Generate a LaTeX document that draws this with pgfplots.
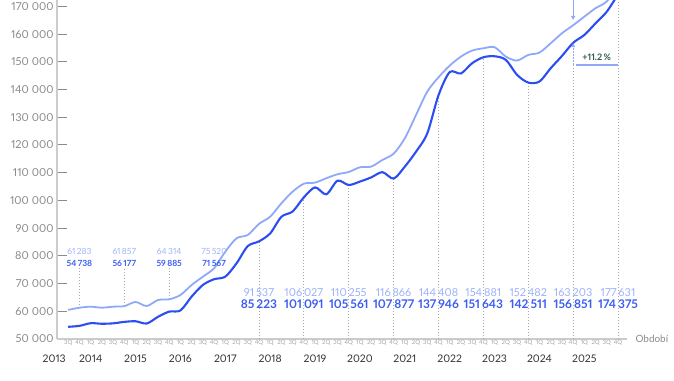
\documentclass[border=0pt]{standalone}
\usepackage{fontspec}
\setmainfont{Lato}[Numbers=Proportional]
\usepackage{pgfplots}
\usepackage{pgfplotstable}
\pgfplotsset{compat=1.18}
\usetikzlibrary{arrows.meta}
\definecolor{lightc}{HTML}{8FA8F7}
\definecolor{darkc}{HTML}{2B4EF3}
\definecolor{lightlab}{HTML}{9DB2F8}
\definecolor{darklab}{HTML}{3C5DF2}
\definecolor{axgray}{HTML}{CCCCCC}
\definecolor{tickgray}{HTML}{8A8A8A}
\definecolor{qgray}{HTML}{A5A5A5}
\definecolor{dotgray}{HTML}{A8A8A8}
\definecolor{pct}{HTML}{2F5A4C}
\newcommand{\ts}{\hspace{3bp}}

\tikzset{
  dotline/.style={dotgray, line width=0.9bp, dash pattern=on 1bp off 2bp},
  yearlab/.style={font=\fontsize{10.5}{12}\selectfont, text=black!80, yshift=-20bp},
  sl/.style={font=\fontsize{8.5}{10}\selectfont, text=lightlab, inner sep=0pt, yshift=88bp},
  sd/.style={font=\bfseries\fontsize{8.5}{10}\selectfont, text=darklab, inner sep=0pt, yshift=76bp},
  bl/.style={font=\fontsize{11}{12}\selectfont, text=lightlab, inner sep=0pt, yshift=46bp},
  bd/.style={font=\bfseries\fontsize{12}{13}\selectfont, text=darklab, inner sep=0pt, yshift=35bp},
}

\pgfplotstableread{
i v
0 54400
1 54738
2 55700
3 55500
4 55650
5 56177
6 56400
7 55600
8 58000
9 59885
10 60300
11 65300
12 69500
13 71567
14 72500
15 77300
16 83500
17 85223
18 88100
19 94100
20 96000
21 101091
22 104700
23 102200
24 107100
25 105561
26 106800
27 108300
28 110200
29 107877
30 112200
31 117600
32 124200
33 137946
34 146300
35 145800
36 149500
37 151643
38 152000
39 150700
40 145300
41 142511
42 142900
43 147700
44 152100
45 156851
46 159700
47 163900
48 168100
49 174375
}\darktab

\pgfplotstableread{
i v
0 60500
1 61283
2 61660
3 61300
4 61660
5 61857
6 63350
7 61900
8 64070
9 64314
10 65880
11 69490
12 72490
13 75520
14 81510
15 86330
16 87530
17 91537
18 94140
19 98970
20 103160
21 106027
22 106420
23 108000
24 109440
25 110255
26 111960
27 112190
28 114600
29 116866
30 122420
31 130840
32 139250
33 144408
34 148630
35 151890
36 154050
37 154881
38 155260
39 151890
40 150450
41 152482
42 153330
43 156700
44 160300
45 163203
46 166300
47 169350
48 171800
49 177631
}\lighttab

\begin{document}
\begin{tikzpicture}[x=1bp,y=1bp]
\path[use as bounding box] (0,0) rectangle (674,380);
\begin{axis}[
  at={(57bp,41bp)}, anchor=south west,
  scale only axis, width=570bp, height=339bp,
  xmin=-1, xmax=49.8, ymin=50000, ymax=172300,
  clip=false,
  axis x line=bottom, axis y line=left,
  axis line style={axgray, line width=1.4bp, -},
  tick align=inside,
  major tick length=10bp,
  minor tick length=4bp,
  ytick style={tickgray, line width=1bp},
  xtick style={draw=none},
  minor xtick={0,...,49,49.8},
  minor x tick style={qgray, line width=0.8bp},
  ytick={50000,60000,...,170000},
  yticklabels={50\ts000,60\ts000,70\ts000,80\ts000,90\ts000,100\ts000,110\ts000,120\ts000,130\ts000,140\ts000,150\ts000,160\ts000,170\ts000},
  yticklabel style={font=\fontsize{11}{12}\selectfont, text=tickgray},
  xtick={0,...,49},
  xticklabels={3Q,4Q,1Q,2Q,3Q,4Q,1Q,2Q,3Q,4Q,1Q,2Q,3Q,4Q,1Q,2Q,3Q,4Q,1Q,2Q,3Q,4Q,1Q,2Q,3Q,4Q,1Q,2Q,3Q,4Q,1Q,2Q,3Q,4Q,1Q,2Q,3Q,4Q,1Q,2Q,3Q,4Q,1Q,2Q,3Q,4Q,1Q,2Q,3Q,4Q},
  xticklabel style={font=\fontsize{6}{7}\selectfont, text=qgray, inner sep=1pt},
]
% dotted guide lines
\draw[dotline] (axis cs:1,61283) -- (axis cs:1,75600);
\draw[dotline] (axis cs:5,61857) -- (axis cs:5,75600);
\draw[dotline] (axis cs:9,64314) -- (axis cs:9,75600);
\draw[dotline] (axis cs:17,50000) -- (axis cs:17,85223);
\draw[dotline] (axis cs:21,50000) -- (axis cs:21,101091);
\draw[dotline] (axis cs:25,50000) -- (axis cs:25,105561);
\draw[dotline] (axis cs:29,50000) -- (axis cs:29,107877);
\draw[dotline] (axis cs:33,50000) -- (axis cs:33,137946);
\draw[dotline] (axis cs:37,50000) -- (axis cs:37,151643);
\draw[dotline] (axis cs:41,50000) -- (axis cs:41,142511);
\draw[dotline] (axis cs:45,50000) -- (axis cs:45,148900);
\draw[dotline] (axis cs:49,50000) -- (axis cs:49,172300);

\addplot[lightc, line width=1.8bp, smooth, tension=0.5] table[x=i,y=v]{\lighttab};
\addplot[darkc, line width=2.1bp, smooth, tension=0.5] table[x=i,y=v]{\darktab};

% arrows at 4Q 2024
\draw[lightc, line width=1bp, -{Triangle[length=4bp,width=4bp]}] (axis cs:45,172300) -- (axis cs:45,165100);
\draw[lightc, line width=1bp, dash pattern=on 1.5bp off 1.5bp, -{Triangle[length=4bp,width=4bp]}] (axis cs:45,148900) -- (axis cs:45,156700);
\draw[lightc, line width=2bp] (axis cs:45.25,148900) -- (axis cs:49,148900);
\node[text=pct, font=\bfseries\fontsize{9}{10}\selectfont] at (axis cs:47.1,151500) {+11.2\,\%};

% year labels
\node[yearlab] at (axis cs:-1.25,50000) {2013};
\node[yearlab] at (axis cs:2,50000) {2014};
\node[yearlab] at (axis cs:6,50000) {2015};
\node[yearlab] at (axis cs:10,50000) {2016};
\node[yearlab] at (axis cs:14,50000) {2017};
\node[yearlab] at (axis cs:18,50000) {2018};
\node[yearlab] at (axis cs:22,50000) {2019};
\node[yearlab] at (axis cs:26,50000) {2020};
\node[yearlab] at (axis cs:30,50000) {2021};
\node[yearlab] at (axis cs:34,50000) {2022};
\node[yearlab] at (axis cs:38,50000) {2023};
\node[yearlab] at (axis cs:42,50000) {2024};
\node[yearlab] at (axis cs:46,50000) {2025};
\node[anchor=west, font=\fontsize{10}{12}\selectfont, text=tickgray] at (axis cs:49.8,50000) {\hspace{5bp}Období};

% small value labels (2013-2016)
\node[sl] at (axis cs:1,50000) {61\,283};
\node[sd] at (axis cs:1,50000) {54\,738};
\node[sl] at (axis cs:5,50000) {61\,857};
\node[sd] at (axis cs:5,50000) {56\,177};
\node[sl] at (axis cs:9,50000) {64\,314};
\node[sd] at (axis cs:9,50000) {59\,885};
\node[sl] at (axis cs:13,50000) {75\,520};
\node[sd] at (axis cs:13,50000) {71\,567};

% large value labels (2017-2025)
\node[bl] at (axis cs:17,50000) {91\,537};
\node[bd] at (axis cs:17,50000) {85\,223};
\node[bl] at (axis cs:21,50000) {106\,027};
\node[bd] at (axis cs:21,50000) {101\,091};
\node[bl] at (axis cs:25,50000) {110\,255};
\node[bd] at (axis cs:25,50000) {105\,561};
\node[bl] at (axis cs:29,50000) {116\,866};
\node[bd] at (axis cs:29,50000) {107\,877};
\node[bl] at (axis cs:33,50000) {144\,408};
\node[bd] at (axis cs:33,50000) {137\,946};
\node[bl] at (axis cs:37,50000) {154\,881};
\node[bd] at (axis cs:37,50000) {151\,643};
\node[bl] at (axis cs:41,50000) {152\,482};
\node[bd] at (axis cs:41,50000) {142\,511};
\node[bl] at (axis cs:45,50000) {163\,203};
\node[bd] at (axis cs:45,50000) {156\,851};
\node[bl] at (axis cs:49,50000) {177\,631};
\node[bd] at (axis cs:49,50000) {174\,375};
\end{axis}
\end{tikzpicture}
\end{document}
